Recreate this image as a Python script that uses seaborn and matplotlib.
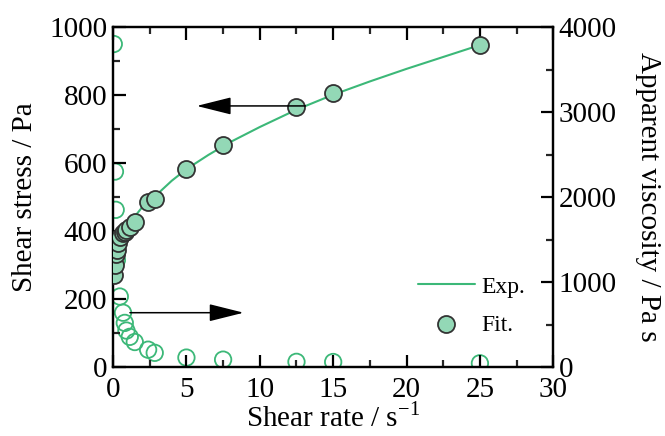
import matplotlib
matplotlib.use('Agg')
import matplotlib.pyplot as plt
from matplotlib.ticker import MultipleLocator
import seaborn as sns
import pandas as pd


# Data
rate = [0.07, 0.13, 0.18, 0.26, 0.34, 0.46, 0.68, 0.8, 0.91, 1.14, 1.48, 2.39, 2.84, 5, 7.5, 12.5, 15, 25]
stress = [270, 300, 334, 344, 364, 383, 393, 398, 403, 413, 427, 486, 495, 582, 652, 766, 806, 946]

visc_rate = [0.05, 0.13, 0.18, 0.26, 0.46, 0.68, 0.8, 0.91, 1.14, 1.48, 2.39, 2.84, 5, 7.5, 12.5, 15, 25]
viscosity = [3800, 2300, 1850, 1260, 830, 640, 520, 430, 356, 295, 205, 168, 112, 88, 62, 60, 45]

curve_rate = [0, 0.05, 0.1, 0.2, 0.35, 0.5, 0.75, 1, 1.5, 2, 3, 4, 5, 6.5, 8, 10, 12.5, 15, 17.5, 20, 22.5, 25]
curve_stress = [265, 301, 315, 334, 355, 372, 394, 413, 444, 471, 508, 548, 582, 624, 662, 706, 757, 801, 840, 877, 912, 947]

# Style
LINE_GREEN = '#3cb878'
FILL_GREEN = '#93d8b6'
EDGE = '#333333'
FS = 21

sns.set_theme(style='ticks')
plt.rcParams['font.family'] = ['Liberation Serif', 'DejaVu Serif']
plt.rcParams['mathtext.fontset'] = 'stix'
plt.rcParams['text.color'] = 'black'
plt.rcParams['axes.labelcolor'] = 'black'

fig = plt.figure(figsize=(6.65, 4.36), dpi=100)
ax = fig.add_axes([0.170, 0.158, 0.662, 0.780])
ax2 = ax.twinx()

df = pd.DataFrame({'rate': rate, 'stress': stress})
dc = pd.DataFrame({'rate': curve_rate, 'stress': curve_stress})
dv = pd.DataFrame({'rate': visc_rate, 'viscosity': viscosity})

sns.scatterplot(data=dv, x='rate', y='viscosity', ax=ax2, s=140, facecolor='none',
                edgecolor=LINE_GREEN, linewidth=1.3, zorder=2)
sns.lineplot(data=dc, x='rate', y='stress', ax=ax, color=LINE_GREEN, linewidth=1.5,
             label='Exp.', zorder=2)
sns.scatterplot(data=df, x='rate', y='stress', ax=ax, s=150, color=FILL_GREEN,
                edgecolor=EDGE, linewidth=1.3, label='Fit.', zorder=3)

ax.set_zorder(ax2.get_zorder() + 1)
ax.patch.set_visible(False)

ax.set_xlim(0, 30)
ax.set_ylim(0, 1000)
ax2.set_ylim(0, 4000)

ax.xaxis.set_major_locator(MultipleLocator(5))
ax.xaxis.set_minor_locator(MultipleLocator(2.5))
ax.yaxis.set_major_locator(MultipleLocator(200))
ax.yaxis.set_minor_locator(MultipleLocator(100))
ax2.yaxis.set_major_locator(MultipleLocator(1000))
ax2.yaxis.set_minor_locator(MultipleLocator(500))

for a in (ax, ax2):
    for sp in a.spines.values():
        sp.set_linewidth(1.6)
        sp.set_color('black')
    a.tick_params(which='major', direction='in', length=9, width=1.6, labelsize=FS, colors='black')
    a.tick_params(which='minor', direction='in', length=5, width=1.6)
ax.tick_params(which='both', top=True, right=False)
ax2.tick_params(which='both', right=True, left=False)
ax.tick_params(axis='x', pad=7)
ax.tick_params(axis='y', pad=4)
ax2.tick_params(axis='y', pad=4)

ax.set_xlabel('Shear rate / s$^{\\mathregular{-1}}$', fontsize=FS, labelpad=1)
ax.set_ylabel('Shear stress / Pa', fontsize=FS, labelpad=8)
ax2.set_ylabel('Apparent viscosity / Pa s', fontsize=FS, rotation=270, labelpad=32)

# Arrows
arrow_style = '-|>,head_length=1.8,head_width=0.45'
ax.annotate('', xy=(5.7, 768), xytext=(13.1, 768),
            arrowprops=dict(arrowstyle=arrow_style, color='black', lw=1.1, shrinkA=0, shrinkB=0))
ax.annotate('', xy=(8.9, 160), xytext=(1.15, 160),
            arrowprops=dict(arrowstyle=arrow_style, color='black', lw=1.1, shrinkA=0, shrinkB=0))

leg = ax.legend(loc='lower right', bbox_to_anchor=(0.985, 0.03), frameon=False, fontsize=17,
                handlelength=2.4, handletextpad=0.3, labelspacing=0.7)
for t in leg.get_texts():
    t.set_color('black')

fig.savefig('out.png', dpi=100)
